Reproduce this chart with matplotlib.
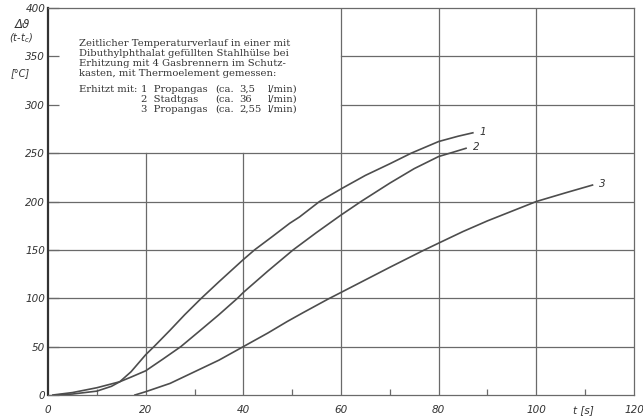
import matplotlib.pyplot as plt
from matplotlib.ticker import MultipleLocator

# curve readings (t in s, temperature rise in degC)
t1 = [1.5, 5, 10, 13, 14.7, 17, 20, 21.9, 25, 28, 31.4, 35, 40, 42.3, 46,
      49.5, 51.5, 55.6, 60, 65, 70, 74.4, 80, 84, 87]
v1 = [0, 1, 4, 9, 13.7, 24, 41.6, 51, 67, 83, 100, 117, 140, 150, 164,
      177.5, 184, 200, 213, 227, 239, 250, 262, 267.5, 271]

t2 = [1, 5, 10, 14.7, 17, 20, 23.5, 27.2, 31, 35, 38.8, 40, 45, 50.2, 55,
      60, 64.1, 70, 75, 80, 83, 85.6]
v2 = [0, 2.5, 7.5, 13.7, 18.5, 25, 37, 50, 66, 83, 100, 106, 128, 150, 168,
      186, 200, 219, 234, 246.5, 251, 255]

t3 = [17.8, 20, 25, 30, 35, 40, 45, 49, 52.2, 57.3, 60, 65, 70, 76.7, 80,
      85, 90, 95, 100, 106, 111.5]
v3 = [0, 3.4, 12, 24, 36, 50, 64, 76, 85, 99, 106, 119, 132, 149, 157,
      169, 180, 190, 200, 209, 217]

curve_labels = ["1", "2", "3"]

note_lines = [
    "Zeitlicher Temperaturverlauf in einer mit",
    "Dibuthylphthalat gefüllten Stahlhülse bei",
    "Erhitzung mit 4 Gasbrennern im Schutz-",
    "kasten, mit Thermoelement gemessen:",
]
gases = ["1  Propangas", "2  Stadtgas", "3  Propangas"]
flows = ["3,5", "36", "2,55"]

W, H = 643, 420
fig = plt.figure(figsize=(W / 100, H / 100), dpi=100)
ax = fig.add_axes([48 / W, (H - 395) / H, (634 - 48) / W, (395 - 8) / H])

ax.set_xlim(0, 120)
ax.set_ylim(0, 400)

gc = "#6a6a6a"
# grid, left-top part kept free for the text block
for y in range(50, 400, 50):
    if y > 250:
        ax.axhline(y, xmin=0.5, color=gc, lw=0.9, zorder=1)
    else:
        ax.axhline(y, color=gc, lw=0.9, zorder=1)
for x in range(20, 120, 20):
    if x < 60:
        ax.axvline(x, ymax=250 / 400, color=gc, lw=0.9, zorder=1)
    else:
        ax.axvline(x, color=gc, lw=0.9, zorder=1)

lc = "#4d4d4d"
for t, v, lab in zip([t1, t2, t3], [v1, v2, v3], curve_labels):
    ax.plot(t, v, color=lc, lw=1.2, zorder=3, solid_joinstyle="round")
    ax.text(t[-1] + 1.4, v[-1] + 1, lab, fontsize=7.5, style="italic",
            color="#333333", ha="left", va="center")

for s in ax.spines.values():
    s.set_color(gc)
    s.set_linewidth(0.9)
ax.spines["left"].set_color("#333333")
ax.spines["left"].set_linewidth(1.6)

ax.xaxis.set_major_locator(MultipleLocator(20))
ax.xaxis.set_minor_locator(MultipleLocator(10))
ax.yaxis.set_major_locator(MultipleLocator(50))
ax.tick_params(axis="y", direction="in", length=8, width=0.9, color=gc,
               labelsize=7.5, pad=2)
ax.tick_params(axis="x", which="major", direction="in", length=0,
               labelsize=7.5, pad=7)
ax.tick_params(axis="x", which="minor", direction="in", length=4, width=0.9,
               color=gc)
for lab in ax.get_xticklabels() + ax.get_yticklabels():
    lab.set_fontstyle("italic")
    lab.set_color("#333333")

# axis captions
fig.text(22 / W, 1 - 25 / H, "Δϑ", fontsize=8.5, style="italic",
         ha="center", va="center", color="#333333")
fig.text(21 / W, 1 - 38 / H, "(t-t$_c$)", fontsize=7, style="italic",
         ha="center", va="center", color="#333333")
fig.text(20 / W, 1 - 73 / H, "[°C]", fontsize=7, style="italic",
         ha="center", va="center", color="#333333")
fig.text(583 / W, 1 - 410 / H, "t [s]", fontsize=7.5, style="italic",
         ha="center", va="center", color="#333333")

# text block
tk = dict(fontsize=7.2, family="DejaVu Serif", color="#333333",
          va="center", ha="left", transform=fig.transFigure)
for i, line in enumerate(note_lines):
    fig.text(79 / W, 1 - (44 + 10 * i) / H, line, **tk)
fig.text(79 / W, 1 - 89 / H, "Erhitzt mit:", **tk)
for i, (g, f) in enumerate(zip(gases, flows)):
    yy = 1 - (89 + 10 * i) / H
    fig.text(141 / W, yy, g, **tk)
    fig.text(215 / W, yy, "(ca.", **tk)
    fig.text(239 / W, yy, f, **tk)
    fig.text(268 / W, yy, "l/min)", **tk)

fig.savefig("out.png", dpi=100)
